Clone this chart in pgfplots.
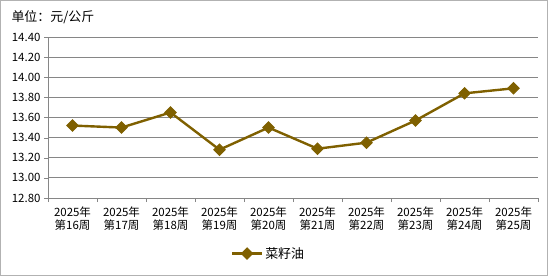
\documentclass[border=0pt]{standalone}
\usepackage{pgfplots}
\pgfplotsset{compat=1.18}
\usepackage{fontspec}
\setmainfont{Noto Sans CJK SC}
\definecolor{lc}{HTML}{7F6000}
\definecolor{gc}{HTML}{868686}
\begin{document}
\begin{tikzpicture}[x=1bp,y=1bp]
\draw[gray!60, line width=1bp] (0.5,0.5) rectangle (547.5,275.5);
\node[anchor=west, font=\fontsize{13}{15}\selectfont] at (8,259) {单位：元/公斤};
\begin{axis}[
  at={(48bp,78bp)}, anchor=south west,
  scale only axis, width=490bp, height=161bp,
  xmin=0.5, xmax=10.5, ymin=12.8, ymax=14.4,
  ytick={12.8,13.0,...,14.41},
  yticklabel style={/pgf/number format/.cd,fixed,fixed zerofill,precision=2},
  /pgf/number format/assume math mode=true,
  ticklabel style={font=\fontsize{11.5}{13}\selectfont},
  xtick={1,...,10},
  xticklabels={{2025年\\第16周},{2025年\\第17周},{2025年\\第18周},{2025年\\第19周},{2025年\\第20周},{2025年\\第21周},{2025年\\第22周},{2025年\\第23周},{2025年\\第24周},{2025年\\第25周}},
  xticklabel style={align=center, yshift=-1bp},
  major x tick style={draw=none},
  minor xtick={0.5,1.5,...,10.5},
  minor x tick style={gc},
  tick align=outside, major tick length=4bp, minor tick length=4bp,
  y tick style={gc},
  axis x line*=bottom, axis y line*=left,
  axis line style={gc,-},
  ymajorgrids, grid style={gc, line width=0.8bp},
  legend style={at={(0.45,-0.345)}, anchor=center, draw=none, font=\fontsize{13}{15}\selectfont},
  legend cell align=left,
  legend image code/.code={\draw[mark repeat=2,mark phase=2] plot coordinates {(0bp,0bp)(15bp,0bp)(30bp,0bp)};},
]
\addplot[lc, line width=2.4bp, mark=square*, mark size=4bp, mark options={fill=lc, rotate=45, line width=1bp}]
coordinates {(1,13.52)(2,13.50)(3,13.65)(4,13.28)(5,13.50)(6,13.29)(7,13.35)(8,13.57)(9,13.84)(10,13.89)};
\addlegendentry{菜籽油}
\end{axis}
\end{tikzpicture}
\end{document}
